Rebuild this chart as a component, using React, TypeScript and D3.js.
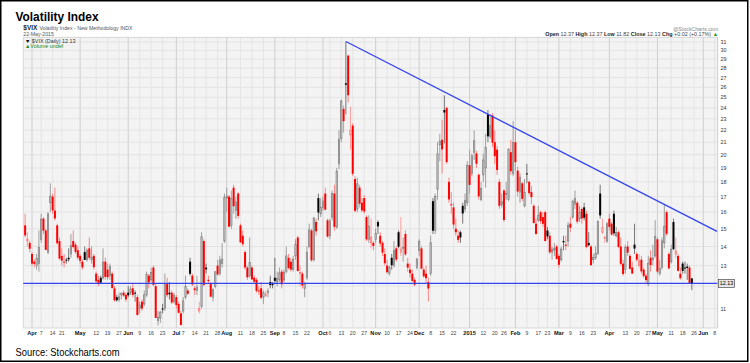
import React from "react";
import * as d3 from "d3";

// daily candles [open, high, low, close], one array per month
const mar14 = [[15.2, 15.9, 14.5, 14.62], [14.3, 14.8, 14.0, 14.41], [14.2, 14.3, 13.7, 13.88]];
const apr14 = [
  [13.6, 13.7, 13.0, 13.1], [13.2, 13.3, 12.9, 13.09], [13.0, 13.6, 12.8, 13.37], [13.1, 14.9, 12.7, 13.96],
  [14.4, 15.9, 14.2, 15.57], [15.6, 15.7, 14.7, 14.89], [14.9, 15.0, 13.8, 13.82], [13.7, 16.0, 13.6, 15.89],
  [16.6, 17.9, 16.0, 17.03], [17.0, 17.2, 15.9, 16.11], [16.1, 17.6, 15.5, 15.61], [15.2, 15.3, 14.1, 14.18],
  [14.3, 14.5, 13.3, 13.36], [13.5, 13.9, 13.0, 13.25], [13.2, 13.6, 12.9, 13.19], [13.3, 13.4, 13.1, 13.27],
  [13.4, 13.9, 13.2, 13.32], [13.6, 14.7, 13.4, 14.06], [14.3, 14.9, 13.9, 13.97], [14.1, 14.2, 13.6, 13.71],
  [13.8, 14.0, 13.3, 13.41],
];
const may14 = [
  [13.5, 13.6, 13.1, 13.25], [13.2, 13.3, 12.8, 12.91], [13.7, 14.0, 13.3, 13.29], [13.3, 13.9, 13.2, 13.8],
  [13.9, 14.5, 13.3, 13.4], [13.3, 14.0, 13.1, 13.43], [13.5, 13.6, 12.8, 12.92], [12.6, 12.7, 12.1, 12.23],
  [12.3, 12.5, 12.0, 12.13], [12.4, 12.5, 12.1, 12.17], [12.4, 13.9, 12.3, 13.17], [13.2, 13.4, 12.3, 12.44],
  [12.8, 13.1, 12.3, 12.42], [12.5, 13.1, 12.3, 12.96], [12.6, 12.7, 11.9, 11.91], [11.9, 12.0, 11.3, 11.36],
  [11.5, 11.6, 11.3, 11.36], [11.4, 11.7, 11.3, 11.51], [11.6, 11.7, 11.4, 11.68], [11.7, 11.8, 11.5, 11.57],
  [11.6, 11.7, 11.3, 11.4],
];
const jun14 = [
  [11.7, 12.0, 11.5, 11.58], [11.7, 12.0, 11.6, 11.87], [11.9, 12.1, 11.5, 11.6], [11.7, 11.8, 11.3, 11.68],
  [11.5, 11.6, 10.7, 10.73], [11.0, 11.3, 10.8, 11.15], [11.3, 11.4, 10.9, 11.0], [11.2, 11.8, 11.1, 11.6],
  [11.6, 12.7, 11.5, 12.56], [12.5, 12.6, 11.9, 12.18], [12.3, 12.9, 12.2, 12.65], [12.9, 13.0, 12.0, 12.06],
  [12.0, 12.1, 10.6, 10.61], [10.5, 10.9, 10.3, 10.62], [10.6, 10.9, 10.4, 10.85], [11.0, 11.2, 10.8, 10.98],
  [11.0, 12.6, 10.9, 12.13], [12.1, 12.4, 11.5, 11.59], [11.7, 12.2, 11.4, 11.63], [11.7, 11.8, 11.2, 11.26],
  [11.3, 11.7, 11.2, 11.57],
];
const jul14 = [
  [11.5, 11.6, 11.0, 11.15], [11.2, 11.3, 10.8, 10.82], [10.8, 10.9, 10.3, 10.32], [10.9, 11.5, 10.8, 11.33],
  [11.5, 12.5, 11.4, 11.98], [11.8, 11.9, 11.6, 11.65], [13.2, 13.4, 12.5, 12.59], [12.5, 12.6, 12.0, 12.08],
  [11.9, 12.0, 11.6, 11.82], [11.8, 12.5, 11.6, 11.96], [10.9, 11.3, 10.8, 11.0], [11.1, 14.8, 11.0, 14.54],
  [14.3, 14.4, 12.0, 12.06], [12.9, 13.1, 12.6, 12.81], [12.3, 12.5, 12.1, 12.24], [12.1, 12.2, 11.5, 11.52],
  [11.5, 11.9, 11.3, 11.84], [12.0, 12.7, 11.9, 12.69], [13.0, 13.3, 12.5, 12.56], [12.6, 13.5, 12.5, 13.28],
  [13.1, 14.2, 12.9, 13.33], [14.3, 17.2, 14.2, 16.95],
];
const aug14 = [
  [16.9, 17.6, 16.0, 17.03], [17.0, 17.1, 15.1, 15.12], [15.2, 17.4, 15.0, 16.87], [17.6, 17.8, 15.9, 16.37],
  [16.1, 17.0, 15.6, 16.66], [17.2, 17.3, 15.6, 15.77], [15.2, 15.3, 14.2, 14.23], [14.6, 14.9, 14.0, 14.13],
  [13.7, 13.8, 12.8, 12.9], [12.9, 13.0, 12.3, 12.42], [12.5, 14.5, 12.4, 13.15], [12.9, 13.0, 12.3, 12.32],
  [12.4, 12.5, 12.1, 12.21], [12.3, 12.4, 11.7, 11.78], [11.8, 12.0, 11.6, 11.76], [11.9, 12.2, 11.4, 11.47],
  [11.5, 11.8, 11.2, 11.7], [11.6, 11.8, 11.5, 11.63], [11.7, 11.9, 11.5, 11.78], [12.2, 12.5, 11.9, 12.05],
  [12.1, 12.2, 11.9, 12.09],
];
const sep14 = [
  [12.4, 13.4, 12.1, 12.25], [12.2, 12.7, 12.0, 12.36], [12.3, 12.9, 12.2, 12.64], [12.7, 12.8, 11.9, 12.09],
  [12.3, 12.8, 12.2, 12.66], [12.7, 14.0, 12.6, 13.5], [13.4, 13.6, 12.8, 12.88], [13.2, 13.4, 12.7, 12.8],
  [12.8, 13.5, 12.7, 13.31], [13.5, 14.4, 13.3, 14.12], [14.5, 14.6, 12.7, 12.73], [12.6, 13.0, 12.0, 12.65],
  [12.6, 12.7, 11.9, 12.03], [11.9, 12.2, 11.5, 12.11], [12.4, 14.0, 12.3, 13.69], [14.0, 15.3, 13.9, 14.93],
  [14.9, 15.0, 13.2, 13.27], [13.3, 15.7, 13.2, 15.64], [15.4, 15.6, 14.6, 14.85], [16.9, 17.2, 15.5, 15.98],
  [15.9, 16.9, 15.7, 16.31],
];
const oct14 = [
  [16.3, 17.0, 16.1, 16.71], [17.2, 17.6, 16.1, 16.16], [15.5, 15.6, 14.5, 14.55], [14.6, 15.6, 14.4, 15.46],
  [15.7, 17.4, 15.5, 17.2], [17.2, 17.8, 14.9, 15.11], [15.1, 19.0, 15.0, 18.76], [19.3, 22.0, 18.9, 21.24],
  [21.3, 24.8, 21.0, 24.64], [23.9, 24.2, 21.8, 22.79], [26.4, 31.06, 23.4, 26.25], [29.4, 29.5, 24.5, 25.2],
  [21.6, 24.1, 20.4, 21.99], [22.4, 22.6, 18.4, 18.57], [18.2, 18.4, 16.0, 16.08], [16.2, 18.3, 16.0, 17.87],
  [17.6, 17.8, 16.3, 16.53], [16.6, 16.9, 16.0, 16.11], [16.9, 17.1, 15.9, 16.04], [15.7, 15.8, 14.3, 14.39],
  [14.4, 15.8, 14.2, 15.15], [14.2, 15.6, 13.9, 14.52], [14.2, 14.3, 13.8, 14.03],
];
const nov14 = [
  [14.4, 15.0, 14.2, 14.73], [15.4, 15.5, 14.7, 15.14], [14.6, 14.8, 14.0, 14.17], [14.2, 14.3, 13.5, 13.67],
  [13.6, 13.9, 13.0, 13.12], [13.0, 13.3, 12.6, 12.67], [12.6, 13.0, 12.5, 12.92], [13.4, 13.6, 12.8, 13.02],
  [13.0, 14.3, 12.9, 13.79], [13.9, 14.0, 13.2, 13.31], [14.8, 14.9, 13.9, 13.99], [13.7, 15.7, 13.5, 13.86],
  [13.9, 14.5, 13.2, 13.96], [14.7, 14.9, 13.5, 13.58], [13.1, 13.4, 12.7, 12.9], [12.8, 13.1, 12.4, 12.62],
  [12.6, 12.8, 12.2, 12.25], [12.3, 12.4, 12.0, 12.07], [12.9, 13.4, 12.8, 13.33],
];
const dec14 = [
  [13.8, 14.4, 13.5, 14.29], [13.9, 14.0, 12.8, 12.85], [12.8, 12.9, 12.4, 12.47], [12.6, 13.0, 12.1, 12.38],
  [12.2, 12.4, 11.3, 11.89], [12.6, 14.6, 12.5, 14.21], [16.7, 16.9, 14.7, 14.89], [14.9, 17.2, 14.7, 17.0],
  [17.5, 21.0, 16.8, 20.08], [20.8, 21.7, 19.5, 21.08], [21.2, 22.9, 18.6, 20.42], [23.8, 25.2, 20.9, 23.57],
  [24.0, 24.1, 19.3, 19.44], [18.0, 18.3, 16.6, 16.81], [16.5, 17.3, 15.9, 16.49], [16.3, 16.6, 15.0, 15.25],
  [15.0, 15.6, 14.6, 14.8], [14.6, 14.9, 14.2, 14.37], [14.8, 14.9, 14.2, 14.5], [16.4, 16.6, 15.3, 15.92],
  [16.2, 17.2, 16.0, 16.73], [16.6, 19.5, 16.4, 19.2],
];
const jan15 = [
  [19.2, 20.4, 17.2, 17.79], [18.6, 20.1, 18.4, 19.92], [20.2, 22.0, 19.6, 21.12], [20.1, 20.3, 19.0, 19.31],
  [18.5, 18.6, 16.8, 17.01], [16.8, 18.0, 16.7, 17.55], [18.5, 20.1, 18.0, 19.6], [19.0, 21.7, 17.6, 20.56],
  [23.4, 23.8, 21.0, 21.48], [21.5, 23.4, 21.3, 22.39], [23.3, 23.5, 20.6, 20.95], [21.0, 22.0, 19.3, 19.89],
  [20.4, 20.7, 18.5, 18.85], [18.0, 18.2, 16.2, 16.4], [16.5, 17.2, 16.3, 16.66], [17.4, 17.5, 15.4, 15.52],
  [17.2, 18.0, 16.8, 17.22], [16.8, 20.5, 16.7, 20.44], [20.2, 21.2, 18.5, 18.76], [18.6, 22.8, 18.4, 20.97],
];
const feb15 = [
  [21.0, 22.0, 18.8, 19.43], [18.8, 19.1, 17.0, 17.33], [17.3, 18.6, 16.6, 18.33], [17.9, 18.0, 16.7, 16.85],
  [16.4, 18.2, 16.3, 17.29], [18.6, 19.3, 17.9, 18.55], [18.0, 18.1, 17.1, 17.23], [17.3, 17.7, 16.5, 16.96],
  [16.4, 16.5, 15.3, 15.34], [15.3, 15.6, 14.7, 14.69], [15.5, 16.4, 15.4, 15.8], [16.0, 16.1, 15.3, 15.45],
  [15.7, 16.0, 15.1, 15.29], [16.0, 16.1, 14.3, 14.3], [14.9, 15.1, 14.4, 14.56], [14.6, 14.8, 13.6, 13.69],
  [13.7, 14.0, 13.3, 13.84], [13.8, 14.2, 13.5, 13.91], [14.0, 14.1, 13.3, 13.34],
];
const mar15 = [
  [13.5, 13.6, 12.9, 13.04], [13.3, 14.0, 13.2, 13.86], [14.3, 14.6, 13.8, 14.23], [14.1, 14.6, 13.8, 14.04],
  [14.3, 15.4, 14.0, 15.2], [15.3, 15.7, 14.8, 15.06], [15.7, 16.8, 15.6, 16.69], [16.5, 17.4, 16.2, 16.87],
  [16.6, 16.7, 15.3, 15.42], [15.6, 16.4, 15.4, 16.0], [16.2, 16.3, 15.3, 15.61], [16.3, 16.6, 15.5, 15.66],
  [15.9, 16.1, 13.9, 13.97], [14.2, 14.8, 14.0, 14.07], [14.0, 14.1, 13.0, 13.02], [13.3, 13.6, 13.1, 13.41],
  [13.4, 14.0, 13.3, 13.62], [13.6, 15.5, 13.6, 15.44], [17.2, 17.8, 15.6, 15.8], [14.8, 15.6, 14.7, 15.07],
  [14.5, 14.6, 14.2, 14.51], [14.3, 15.4, 14.2, 15.29],
];
const apr15 = [
  [15.6, 15.9, 14.9, 15.11], [15.3, 15.4, 14.6, 14.67], [15.9, 16.1, 14.6, 14.74], [14.6, 15.1, 14.5, 14.78],
  [14.8, 14.9, 13.9, 13.98], [14.0, 14.5, 13.0, 13.09], [13.1, 13.3, 12.5, 12.58], [12.8, 14.1, 12.6, 13.94],
  [14.0, 14.3, 13.5, 13.67], [13.5, 13.6, 12.8, 12.84], [12.9, 13.2, 12.6, 12.6], [14.1, 15.3, 13.6, 13.89],
  [13.6, 13.7, 13.2, 13.3], [13.0, 13.6, 12.9, 13.25], [13.3, 13.5, 12.6, 12.71], [12.8, 12.9, 12.4, 12.48],
  [12.5, 12.6, 12.1, 12.29], [12.1, 13.5, 12.0, 13.12], [13.4, 13.8, 12.7, 13.03], [13.3, 14.1, 13.0, 13.39],
  [13.5, 15.5, 13.4, 14.55],
];
const may15 = [
  [14.4, 14.5, 12.6, 12.7], [12.6, 13.3, 12.5, 12.85], [12.9, 14.5, 12.8, 14.31], [14.2, 16.5, 13.9, 15.15],
  [16.0, 16.1, 14.6, 14.71], [13.6, 13.7, 12.8, 12.86], [13.2, 14.1, 13.1, 13.85], [15.4, 15.6, 13.8, 13.86],
  [13.6, 14.5, 13.4, 13.76], [13.5, 13.6, 12.7, 12.74], [12.6, 12.9, 12.3, 12.38], [13.1, 13.2, 12.6, 12.73],
  [12.9, 13.2, 12.6, 12.85], [12.95, 13.1, 12.3, 12.88], [12.9, 13.0, 12.1, 12.11], [12.37, 12.37, 11.82, 12.13],
];

const holidays = [
  "2014-04-18", "2014-05-26", "2014-07-04", "2014-09-01", "2014-11-27", "2014-12-25",
  "2015-01-01", "2015-01-19", "2015-02-16", "2015-04-03", "2015-05-25",
];

// [date, label, month start?]
const xTicks: [string, string, boolean][] = [
  ["2014-04-01", "Apr", true], ["2014-04-07", "7", false], ["2014-04-14", "14", false], ["2014-04-21", "21", false],
  ["2014-05-01", "May", true], ["2014-05-12", "12", false], ["2014-05-19", "19", false], ["2014-05-27", "27", false],
  ["2014-06-02", "Jun", true], ["2014-06-09", "9", false], ["2014-06-16", "16", false], ["2014-06-23", "23", false],
  ["2014-07-01", "Jul", true], ["2014-07-07", "7", false], ["2014-07-14", "14", false], ["2014-07-21", "21", false],
  ["2014-07-28", "28", false], ["2014-08-01", "Aug", true], ["2014-08-11", "11", false], ["2014-08-18", "18", false],
  ["2014-08-25", "25", false], ["2014-09-02", "Sep", true], ["2014-09-08", "8", false], ["2014-09-15", "15", false],
  ["2014-09-22", "22", false], ["2014-10-01", "Oct", true], ["2014-10-06", "6", false], ["2014-10-13", "13", false],
  ["2014-10-20", "20", false], ["2014-10-27", "27", false], ["2014-11-03", "Nov", true], ["2014-11-10", "10", false],
  ["2014-11-17", "17", false], ["2014-11-24", "24", false], ["2014-12-01", "Dec", true], ["2014-12-08", "8", false],
  ["2014-12-15", "15", false], ["2014-12-22", "22", false], ["2015-01-02", "2015", true], ["2015-01-12", "12", false],
  ["2015-01-20", "20", false], ["2015-01-26", "26", false], ["2015-02-02", "Feb", true], ["2015-02-09", "9", false],
  ["2015-02-17", "17", false], ["2015-02-23", "23", false], ["2015-03-02", "Mar", true], ["2015-03-09", "9", false],
  ["2015-03-16", "16", false], ["2015-03-23", "23", false], ["2015-04-01", "Apr", true], ["2015-04-13", "13", false],
  ["2015-04-20", "20", false], ["2015-04-27", "27", false], ["2015-05-01", "May", true], ["2015-05-11", "11", false],
  ["2015-05-18", "18", false], ["2015-05-26", "26", false], ["2015-06-01", "Jun", true], ["2015-06-08", "8", false],
];
const yTicks = [11, 13, 14, 15, 16, 17, 18, 19, 20, 21, 22, 23, 24, 25, 26, 27, 28, 29, 30, 31];
const yGrid = [11, 12, 13, 14, 15, 16, 17, 18, 19, 20, 21, 22, 23, 24, 25, 26, 27, 28, 29, 30, 31];

const supportLevel = 12.13;
const trendStart: [string, number] = ["2014-10-15", 31.06];
const trendEnd: [string, number] = ["2015-06-09", 14.85];

const candles = [mar14, apr14, may14, jun14, jul14, aug14, sep14, oct14, nov14, dec14, jan15, feb15, mar15, apr15, may15].flat();

const fmt = d3.timeFormat("%Y-%m-%d");
const calendar: string[] = [];
for (let d = new Date(2014, 2, 27); d <= new Date(2015, 5, 10); d = d3.timeDay.offset(d, 1)) {
  const s = fmt(d);
  if (d.getDay() === 0 || d.getDay() === 6 || holidays.includes(s)) continue;
  calendar.push(s);
}
const dayIndex = new Map(calendar.map((s, i) => [s, i]));

const App = () => {
  const left = 23.3, right = 717.7, top = 37.3, bottom = 328;
  const x = d3.scaleLinear().domain([-0.8, 302.3]).range([left, right]);
  const y = d3.scaleLog().domain([10.2, 31.57]).range([bottom, top]);
  const font = "'Liberation Sans', Arial, sans-serif";
  const bw = 2;

  const bars = candles.map((c, i) => {
    const [o, h, l, cl] = c;
    const prev = i > 0 ? candles[i - 1][3] : o;
    const down = cl < prev;
    const hollow = cl > o;
    const cx = x(i);
    const yt = y(Math.max(o, cl));
    const yb = y(Math.min(o, cl));
    const bh = Math.max(yb - yt, 1);
    let wick, body;
    if (down && hollow) {
      wick = "#ff8a8a";
      body = <rect x={cx - bw / 2 + 0.35} y={yt} width={bw - 0.7} height={bh} fill="#ffd0d0" stroke="#ff6f6f" strokeWidth={0.7} />;
    } else if (down) {
      wick = "#ff6a6a";
      body = <rect x={cx - bw / 2} y={yt} width={bw} height={bh} fill="#ff0000" />;
    } else if (hollow) {
      wick = "#8a8a8a";
      body = <rect x={cx - bw / 2 + 0.35} y={yt} width={bw - 0.7} height={bh} fill="#cdcdcd" stroke="#7d7d7d" strokeWidth={0.7} />;
    } else {
      wick = "#555";
      body = <rect x={cx - bw / 2} y={yt} width={bw} height={bh} fill="#000" />;
    }
    return (
      <g key={calendar[i]}>
        <line x1={cx} x2={cx} y1={y(h)} y2={y(l)} stroke={wick} strokeWidth={0.8} />
        {body}
      </g>
    );
  });

  const tx1 = x(dayIndex.get(trendStart[0])!);
  const tx2 = x(dayIndex.get(trendEnd[0])!);

  return (
    <svg width={750} height={363} style={{ position: "absolute", left: 0, top: 0, background: "#fff" }} fontFamily={font}>
      <rect x={0.75} y={0.75} width={747} height={360.5} fill="#fff" stroke="#000" strokeWidth={1.5} />
      <text x={15.5} y={21} fontSize={13} fontWeight="bold" textLength={83} lengthAdjust="spacingAndGlyphs">Volatility Index</text>

      <text x={23.3} y={30} fontSize={6.5} fill="#222">
        <tspan fontWeight="bold">$VIX</tspan>
        <tspan fontSize={5.2} fill="#555" dx={2}>Volatility Index - New Methodology  INDX</tspan>
      </text>
      <text x={23.3} y={35.7} fontSize={5.2} fill="#555">22-May-2015</text>
      <text x={718} y={31} fontSize={5.2} fill="#888" textAnchor="end">@StockCharts.com</text>
      <text x={718} y={36.3} fontSize={5.4} fill="#444" textAnchor="end">
        <tspan fontWeight="bold" fill="#222">Open</tspan> 12.37 <tspan fontWeight="bold" fill="#222">High</tspan> 12.37{" "}
        <tspan fontWeight="bold" fill="#222">Low</tspan> 11.82 <tspan fontWeight="bold" fill="#222">Close</tspan> 12.13{" "}
        <tspan fontWeight="bold" fill="#222">Chg</tspan> +0.02 (+0.17%) <tspan fill="#1a9a1a">▲</tspan>
      </text>

      <rect x={left} y={top} width={right - left} height={bottom - top} fill="#f3f3f3" stroke="#d0d0d0" strokeWidth={0.8} />
      {yGrid.map((v) => (
        <line key={v} x1={left} x2={right} y1={y(v)} y2={y(v)} stroke="#dedede" strokeWidth={0.7} />
      ))}
      {xTicks.map(([d, , major]) => {
        const px = x(dayIndex.get(d)!);
        return <line key={d} x1={px} x2={px} y1={top} y2={bottom} stroke={major ? "#cfcfcf" : "#e0e0e0"} strokeWidth={major ? 1 : 0.7} />;
      })}

      <text x={25} y={42.5} fontSize={5.4} fill="#333">
        <tspan fill="#000">▼</tspan> $VIX (Daily) 12.13
      </text>
      <text x={25} y={47.6} fontSize={5.4} fill="#1a8a1a">▲Volume undef</text>

      {bars}

      <line x1={left} x2={right} y1={y(supportLevel)} y2={y(supportLevel)} stroke="#3344ee" strokeWidth={1.3} />
      <line x1={tx1} x2={tx2} y1={y(trendStart[1])} y2={y(trendEnd[1])} stroke="#3344ee" strokeWidth={1.3} />

      <line x1={right} x2={right} y1={top} y2={bottom} stroke="#b5d3b5" strokeWidth={0.8} strokeDasharray="1,1" />
      {yTicks.map((v) => (
        <text key={v} x={720.5} y={y(v) + 2} fontSize={5.4} fill="#333">{v}</text>
      ))}
      <rect x={718.5} y={y(supportLevel) - 4} width={16} height={8} fill="#e4e4e4" stroke="#333" strokeWidth={0.6} />
      <text x={726.5} y={y(supportLevel) + 2} fontSize={5.4} textAnchor="middle" fill="#000">12.13</text>

      {xTicks.map(([d, label, major]) => (
        <text key={d} x={x(dayIndex.get(d)!)} y={334.5} fontSize={major ? 5.6 : 5.2} fontWeight={major ? "bold" : "normal"} fill={major ? "#111" : "#444"} textAnchor="middle">
          {label}
        </text>
      ))}

      <text x={15.5} y={355.5} fontSize={11} textLength={104} lengthAdjust="spacingAndGlyphs">Source: Stockcharts.com</text>
    </svg>
  );
};

export default App;
